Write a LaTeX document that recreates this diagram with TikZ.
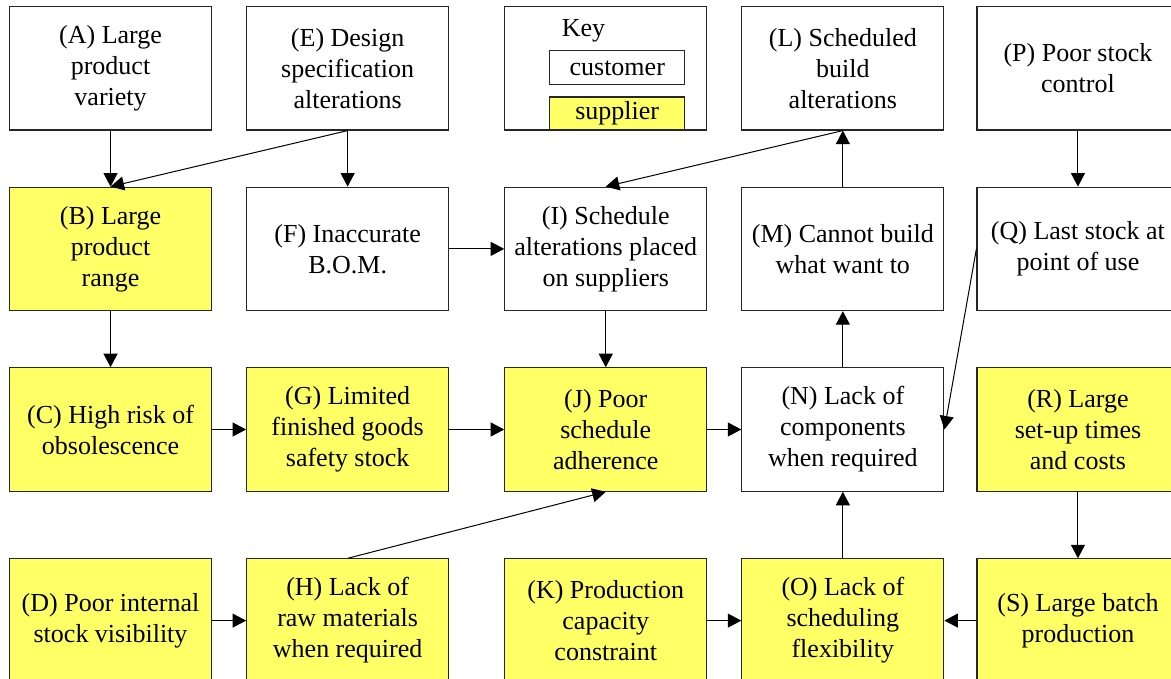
\documentclass[tikz,border=0pt]{standalone}
\usepackage{fontspec}
\setmainfont{Liberation Serif}
\usepackage{xcolor}
\usetikzlibrary{positioning, arrows.meta}
\definecolor{suppyellow}{RGB}{255,255,102}

\begin{document}
\begin{tikzpicture}[node distance=56pt and 34pt,
    every node/.style={rectangle, draw=black!85, line width=1.1pt, minimum width=202pt, minimum height=123.5pt, align=center, inner sep=2pt, font=\rmfamily\fontsize{26}{31}\selectfont},
    supp/.style={fill=suppyellow},
    arr/.style={-{Triangle[length=13.5pt,width=14pt]}, line width=1pt}]
    \useasboundingbox (0,0) rectangle (1171pt,-679pt);
    % Row 1
    \node[anchor=north west] (A) at (9pt,-6pt) {(A) Large\\product\\variety};
    \node[right=of A] (E) {(E) Design\\specification\\alterations};
    \node[right=55pt of E] (key) {};
    \node[right=of key] (L) {(L) Scheduled\\build\\alterations};
    \node[right=32pt of L] (P) {(P) Poor stock\\control};
    % Key
    \node[supp, minimum width=135pt, minimum height=33pt, anchor=south west, xshift=45pt] (supplier) at (key.south west) {supplier};
    \node[minimum width=135pt, minimum height=34pt, above=11pt of supplier] (customer) {customer};
    \node[draw=none, minimum width=0pt, minimum height=0pt, inner sep=0pt, anchor=base west, xshift=12pt, yshift=14pt] (keylabel) at (customer.north west) {Key};
    % Row 2
    \node[supp, below=of A] (B) {(B) Large\\product\\range};
    \node[below=of E] (F) {(F) Inaccurate\\B.O.M.};
    \node[below=of key] (I) {(I) Schedule\\alterations placed\\on suppliers};
    \node[below=of L] (M) {(M) Cannot build\\what want to};
    \node[below=of P] (Q) {(Q) Last stock at\\point of use};
    % Row 3
    \node[supp, below=of B] (C) {(C) High risk of\\obsolescence};
    \node[supp, below=of F] (G) {(G) Limited\\finished goods\\safety stock};
    \node[supp, below=of I] (J) {(J) Poor\\schedule\\adherence};
    \node[below=of M] (N) {(N) Lack of\\components\\when required};
    \node[supp, below=of Q] (R) {(R) Large\\set-up times\\and costs};
    % Row 4
    \node[supp, below=66.5pt of C] (D) {(D) Poor internal\\stock visibility};
    \node[supp, below=66.5pt of G] (H) {(H) Lack of\\raw materials\\when required};
    \node[supp, below=66.5pt of J] (K) {(K) Production\\capacity\\constraint};
    \node[supp, below=66.5pt of N] (O) {(O) Lack of\\scheduling\\flexibility};
    \node[supp, below=66.5pt of R] (S) {(S) Large batch\\production};
    % Arrows
    \draw[arr] (A) -- (B);
    \draw[arr] (E.south) -- (B.north);
    \draw[arr] (E) -- (F);
    \draw[arr] (F) -- (I);
    \draw[arr] (L.south) -- (I.north);
    \draw[arr] (M) -- (L);
    \draw[arr] (P) -- (Q);
    \draw[arr] (Q.west) -- (N.east);
    \draw[arr] (B) -- (C);
    \draw[arr] (I) -- (J);
    \draw[arr] (C) -- (G);
    \draw[arr] (G) -- (J);
    \draw[arr] (J) -- (N);
    \draw[arr] (N) -- (M);
    \draw[arr] (H.north) -- (J.south);
    \draw[arr] (D) -- (H);
    \draw[arr] (K) -- (O);
    \draw[arr] (O) -- (N);
    \draw[arr] (R) -- (S);
    \draw[arr] (S) -- (O);
\end{tikzpicture}
\end{document}
